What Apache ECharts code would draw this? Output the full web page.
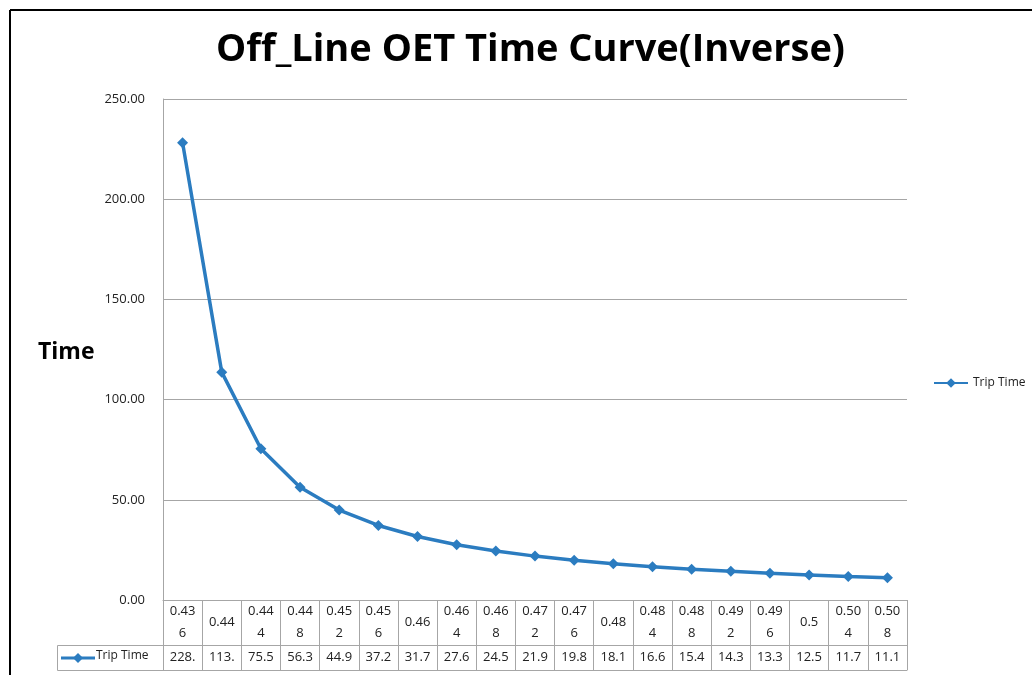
<!DOCTYPE html>
<html>
<head>
<meta charset="utf-8">
<script src="https://cdn.jsdelivr.net/npm/echarts@6/dist/echarts.min.js"></script>
<style>
  html, body { margin: 0; padding: 0; background: #fff; }
  #chart { width: 1032px; height: 675px; }
</style>
</head>
<body>
<div id="chart"></div>
<script>
  // 线路 OET 时间曲线 + 数据表
  var categories = ['0.436', '0.44', '0.444', '0.448', '0.452', '0.456', '0.46', '0.464', '0.468', '0.472',
    '0.476', '0.48', '0.484', '0.488', '0.492', '0.496', '0.5', '0.504', '0.508'];
  var tripTime = [228.2, 113.7, 75.5, 56.3, 44.9, 37.2, 31.7, 27.6, 24.5, 21.9,
    19.8, 18.1, 16.6, 15.4, 14.3, 13.3, 12.5, 11.7, 11.1];
  var yTicks = [0, 50, 100, 150, 200, 250];

  var lineColor = '#2B7CC0';
  var gridColor = '#A6A6A6';
  var font = '"Open Sans", "Noto Sans", sans-serif';

  // 表格里的文字: 太长就换行/截断, 跟 Excel 一样
  var catText = categories.map(function (c) {
    return c.length > 4 ? c.slice(0, 4) + '\n' + c.slice(4) : c;
  });
  var valText = tripTime.map(function (v) { return String(v).slice(0, 4); });

  var myChart = echarts.init(document.getElementById('chart'));
  var options = {
    backgroundColor: '#fff',
    animation: false,
    title: [{
      text: 'Off_Line OET Time Curve(Inverse)',
      left: 211,
      top: 26,
      textStyle: { fontFamily: font, fontSize: 38, fontWeight: 'bold', color: '#000' }
    }, {
      text: 'Time',
      left: 33,
      top: 336,
      textStyle: { fontFamily: font, fontSize: 23, fontWeight: 'bold', color: '#000' }
    }],
    legend: {
      left: 928,
      top: 372,
      itemWidth: 34,
      itemHeight: 12,
      itemGap: 2,
      textStyle: { fontFamily: font, fontSize: 12, color: '#222' },
      data: ['Trip Time']
    },
    grid: { left: 163, right: 125, top: 99, bottom: 75, containLabel: false },
    xAxis: [{
      type: 'category',
      data: catText,
      position: 'bottom',
      boundaryGap: true,
      axisLine: { show: true, lineStyle: { color: gridColor, width: 1 } },
      axisTick: { show: true, interval: 0, length: 45, lineStyle: { color: gridColor } },
      axisLabel: {
        interval: 0, margin: 22, verticalAlign: 'middle', lineHeight: 22,
        fontFamily: font, fontSize: 13, color: '#222'
      }
    }, {
      type: 'category',
      data: valText,
      position: 'bottom',
      offset: 45,
      boundaryGap: true,
      axisLine: { show: true, lineStyle: { color: gridColor, width: 1 } },
      axisTick: { show: true, interval: 0, length: 25, lineStyle: { color: gridColor } },
      axisLabel: {
        interval: 0, margin: 12, verticalAlign: 'middle',
        fontFamily: font, fontSize: 13, color: '#222'
      }
    }, {
      type: 'category',
      data: categories,
      position: 'bottom',
      offset: 70,
      axisLine: { show: true, lineStyle: { color: gridColor, width: 1 } },
      axisTick: { show: false },
      axisLabel: { show: false }
    }],
    yAxis: {
      type: 'value',
      min: yTicks[0],
      max: yTicks[yTicks.length - 1],
      interval: 50,
      axisLine: { show: true, lineStyle: { color: gridColor } },
      axisTick: { show: false },
      axisLabel: {
        margin: 18,
        fontFamily: font, fontSize: 13, color: '#222',
        formatter: function (v) { return v.toFixed(2); }
      },
      splitLine: { show: true, lineStyle: { color: gridColor } }
    },
    graphic: [
      // 外框
      { type: 'line', shape: { x1: 10, y1: 10, x2: 1032, y2: 10 }, style: { stroke: '#000', lineWidth: 2 } },
      { type: 'line', shape: { x1: 10, y1: 10, x2: 10, y2: 675 }, style: { stroke: '#000', lineWidth: 2 } },
      // 数据表左边的图例格
      { type: 'rect', shape: { x: 57.5, y: 645.5, width: 106, height: 25 }, style: { fill: 'none', stroke: gridColor } },
      { type: 'line', shape: { x1: 61, y1: 658, x2: 95, y2: 658 }, style: { stroke: lineColor, lineWidth: 3 } },
      { type: 'polygon', shape: { points: [[78, 653], [83, 658], [78, 663], [73, 658]] }, style: { fill: lineColor } },
      { type: 'text', left: 96, top: 650, style: { text: 'Trip Time', fontFamily: font, fontSize: 12, fill: '#222' } }
    ],
    series: [{
      name: 'Trip Time',
      type: 'line',
      xAxisIndex: 0,
      data: tripTime,
      symbol: 'diamond',
      symbolSize: 11,
      showAllSymbol: true,
      lineStyle: { color: lineColor, width: 3.5 },
      itemStyle: { color: lineColor }
    }]
  };
  myChart.setOption(options);
</script>
</body>
</html>
